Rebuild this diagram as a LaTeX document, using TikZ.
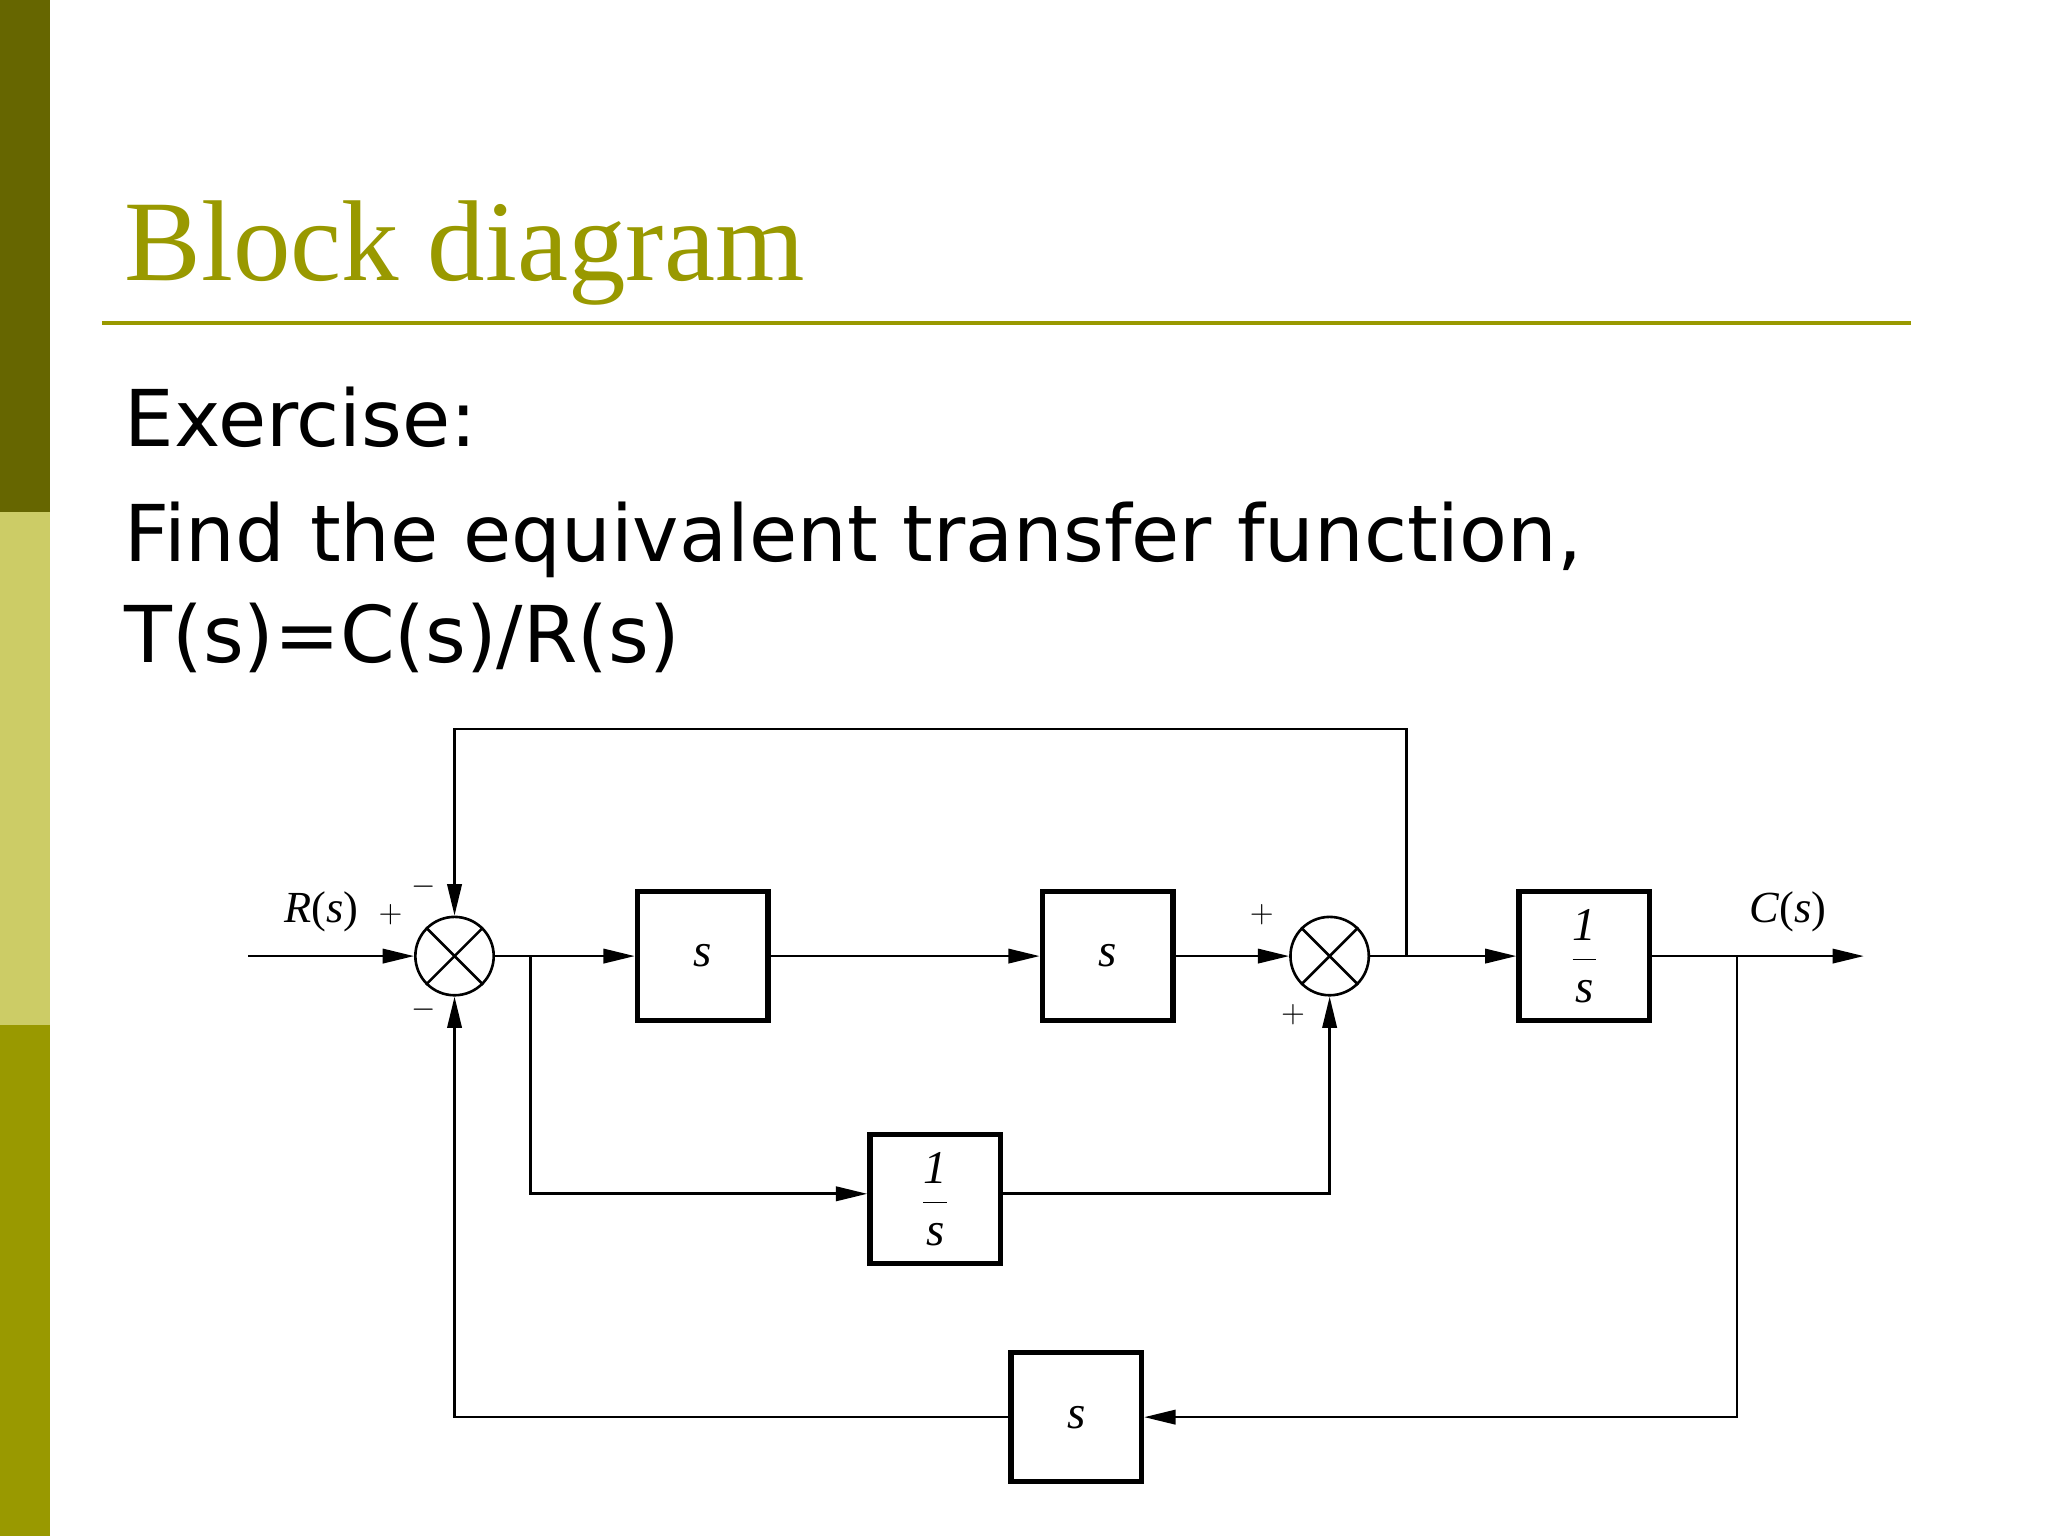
\documentclass[tikz,border=0pt]{standalone}
\usepackage{fontspec}
\setmainfont{Liberation Serif}
\newfontfamily\sansf{DejaVu Sans}
\usetikzlibrary{arrows.meta}
\definecolor{olive}{HTML}{999900}
\definecolor{darkolive}{HTML}{666600}
\definecolor{lightolive}{HTML}{CCCC66}
\newcommand{\myfrac}{$\displaystyle\frac{\mbox{1}}{\mbox{\itshape s}}$}
\begin{document}
\begin{tikzpicture}[x=0.5pt,y=-0.5pt,
  line/.style={line width=1pt},
  arr/.style={line width=1pt,-{Triangle[length=12pt,width=5.5pt]}},
  blk/.style={draw,line width=2pt,minimum width=50pt,minimum height=49.5pt,inner sep=0pt,font=\fontsize{18}{20}\selectfont\itshape},
  sumj/.style={draw,circle,line width=1pt,minimum size=30pt,inner sep=0pt},
  sgn/.style={font=\fontsize{13}{14}\selectfont,inner sep=0pt},
  lab/.style={font=\fontsize{17}{20}\selectfont,inner sep=0pt},
  body/.style={font=\sansf\fontsize{30}{36}\selectfont,anchor=base west,inner sep=0pt}]
\useasboundingbox (0,0) rectangle (1568,1176);
\fill[white] (0,0) rectangle (1568,1176);
\fill[darkolive] (0,0) rectangle (38,392);
\fill[lightolive] (0,392) rectangle (38,785);
\fill[olive] (0,785) rectangle (38,1176);
\node[anchor=base west,inner sep=0pt,text=olive,font=\fontsize{44}{50}\selectfont] (title) at (95,215) {Block diagram};
\draw[olive,line width=1.5pt] (78,247) -- (1463,247);
\node[body] (ex) at (95,342) {Exercise:};
\node[body] (find) at (95,430) {Find the equivalent transfer function,};
\node[body] (ts) at (95,507) {T(s)=C(s)/R(s)};
% diagram
\node[sumj] (s1) at (348,732) {};
\draw[line] (s1.north west) -- (s1.south east) (s1.north east) -- (s1.south west);
\node[sumj] (s2) at (1018,732) {};
\draw[line] (s2.north west) -- (s2.south east) (s2.north east) -- (s2.south west);
\node[blk] (b1) at (538,732) {s};
\node[blk] (b2) at (848,732) {s};
\node[blk] (b3) at (1213,732) {\myfrac};
\node[blk] (b4) at (716,918) {\myfrac};
\node[blk] (b5) at (824,1085) {s};
\coordinate (in) at (190,732);
\coordinate (out) at (1427,732);
\coordinate (p1) at (1077,732);
\coordinate (p2) at (406,732);
\coordinate (p3) at (1330,732);
\coordinate (t1) at (1077,558);
\coordinate (t2) at (348,558);
\coordinate (m1) at (406,914);
\coordinate (m2) at (1018,914);
\coordinate (d1) at (1330,1085);
\coordinate (d2) at (348,1085);
\draw[arr] (in) -- (s1);
\draw[arr] (s1) -- (b1);
\draw[arr] (b1) -- (b2);
\draw[arr] (b2) -- (s2);
\draw[arr] (s2) -- (b3);
\draw[arr] (b3) -- (out);
\draw[arr] (p1) -- (t1) -- (t2) -- (s1);
\draw[arr] (p2) -- (m1) -- (b4.west |- m1);
\draw[arr] (b4.east |- m2) -- (m2) -- (s2);
\draw[arr] (p3) -- (d1) -- (b5);
\draw[arr] (b5) -- (d2) -- (s1);
\node[lab] (R) at (246,698) {\textit{R}(\textit{s})};
\node[lab] (C) at (1369,698) {\textit{C}(\textit{s})};
\node[sgn] (g1) at (299,700) {$+$};
\node[sgn] (g2) at (324,679) {$-$};
\node[sgn] (g3) at (324,773) {$-$};
\node[sgn] (g4) at (966,700) {$+$};
\node[sgn] (g5) at (990,777) {$+$};
\end{tikzpicture}
\end{document}
